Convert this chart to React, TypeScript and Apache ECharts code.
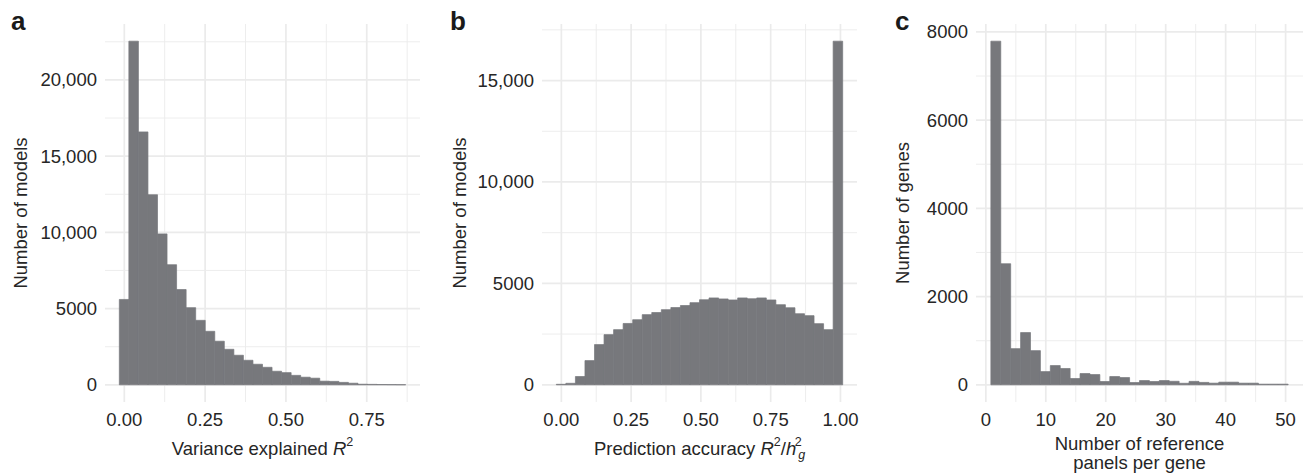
import React, { useEffect, useRef } from "react";
import * as echarts from "echarts";

const FONT = '"Liberation Sans", Arial, Helvetica, sans-serif';
const TEXT = "#262626";
const BAR = "#77787c";
const GRIDC = "#ebebeb";
const FS = 18.5;

// ---- Panel a: Variance explained R^2 (30 bins)
const aBinStart = -0.0154;
const aBinWidth = 0.02953;
const aCounts = [5600, 22540, 16590, 12470, 9900, 7880, 6250, 5060, 4230, 3510, 2860, 2330, 1940, 1610, 1350, 1150, 890, 800, 620, 500, 435, 240, 225, 160, 105, 40, 30, 20, 15, 10];
const aXMajor = [0, 0.25, 0.5, 0.75];
const aXMinor = [0.125, 0.375, 0.625, 0.875];
const aYMajor = [0, 5000, 10000, 15000, 20000];
const aYMinor = [2500, 7500, 12500, 17500, 22500];

// ---- Panel b: Prediction accuracy R^2/h_g^2 (30 bins)
const bBinStart = -0.018;
const bBinWidth = 0.0342;
const bCounts = [25, 75, 410, 1195, 1985, 2475, 2720, 3025, 3210, 3460, 3565, 3705, 3810, 3910, 4050, 4195, 4285, 4235, 4185, 4285, 4245, 4285, 4185, 3950, 3800, 3505, 3410, 3015, 2720, 16940];
const bXMajor = [0, 0.25, 0.5, 0.75, 1];
const bXMinor = [0.125, 0.375, 0.625, 0.875];
const bYMajor = [0, 5000, 10000, 15000];
const bYMinor = [2500, 7500, 12500, 17500];

// ---- Panel c: Number of reference panels per gene (30 bins)
const cBinStart = 0.835;
const cBinWidth = 1.653;
const cCounts = [7790, 2745, 820, 1185, 775, 300, 437, 370, 143, 256, 233, 75, 188, 165, 52, 97, 75, 97, 80, 35, 78, 55, 38, 60, 60, 38, 38, 15, 15, 15];
const cXMajor = [0, 10, 20, 30, 40, 50];
const cXMinor = [5, 15, 25, 35, 45];
const cYMajor = [0, 2000, 4000, 6000, 8000];
const cYMinor = [1000, 3000, 5000, 7000];

type Panel = {
  start: number;
  width: number;
  counts: number[];
  xMajor: number[];
  xMinor: number[];
  yMajor: number[];
  yMinor: number[];
  xFmt: (v: number) => string;
  yFmt: (v: number) => string;
  grid: { left: number; top: number; width: number; height: number };
  xName: string;
  xNameGap: number;
  yName: string;
  yNameGap: number;
};

const commaFmt = (v: number) => (v >= 10000 ? v.toLocaleString("en-US") : String(v));

const panels: Panel[] = [
  {
    start: aBinStart, width: aBinWidth, counts: aCounts,
    xMajor: aXMajor, xMinor: aXMinor, yMajor: aYMajor, yMinor: aYMinor,
    xFmt: (v) => v.toFixed(2), yFmt: commaFmt,
    grid: { left: 105, top: 24, width: 315, height: 378 },
    xName: "Variance explained {it|R}{sup|2}", xNameGap: 33,
    yName: "Number of models", yNameGap: 75,
  },
  {
    start: bBinStart, width: bBinWidth, counts: bCounts,
    xMajor: bXMajor, xMinor: bXMinor, yMajor: bYMajor, yMinor: bYMinor,
    xFmt: (v) => v.toFixed(2), yFmt: commaFmt,
    grid: { left: 542, top: 24, width: 315, height: 378 },
    xName: "Prediction accuracy {it|R}{sup|2}/{it|h}{sp| }{supn|2}{sub|g}", xNameGap: 33,
    yName: "Number of models", yNameGap: 73,
  },
  {
    start: cBinStart, width: cBinWidth, counts: cCounts,
    xMajor: cXMajor, xMinor: cXMinor, yMajor: cYMajor, yMinor: cYMinor,
    xFmt: (v) => String(v), yFmt: (v) => String(v),
    grid: { left: 976, top: 24, width: 327, height: 378 },
    xName: "Number of reference\npanels per gene", xNameGap: 28,
    yName: "Number of genes", yNameGap: 64.5,
  },
];

const letters = [
  { t: "a", x: 11, y: 30 },
  { t: "b", x: 450, y: 30 },
  { t: "c", x: 895, y: 30 },
];

export default function App() {
  const ref = useRef<HTMLDivElement>(null);
  useEffect(() => {
    if (!ref.current) return;
    const chart = echarts.init(ref.current, undefined, { renderer: "svg" });

    const grids: any[] = [];
    const xAxes: any[] = [];
    const yAxes: any[] = [];
    const series: any[] = [];

    panels.forEach((p, i) => {
      const end = p.start + p.width * p.counts.length;
      const span = end - p.start;
      const xmin = p.start - 0.05 * span;
      const xmax = end + 0.05 * span;
      const maxC = Math.max(...p.counts);
      const ymin = -0.05 * maxC;
      const ymax = 1.05 * maxC;

      grids.push({ ...p.grid, containLabel: false, outerBoundsMode: "none" });

      const multi = p.xName.indexOf("\n") >= 0;
      xAxes.push({
        type: "value",
        gridIndex: i,
        min: xmin,
        max: xmax,
        axisLine: { show: false, onZero: false },
        axisTick: { show: false, customValues: p.xMajor },
        splitLine: { show: false },
        axisLabel: {
          customValues: p.xMajor,
          formatter: p.xFmt,
          margin: 8,
          fontSize: FS,
          color: TEXT,
          fontFamily: FONT,
        },
        name: p.xName,
        nameLocation: "middle",
        nameGap: p.xNameGap,
        nameTextStyle: {
          fontSize: FS,
          color: TEXT,
          fontFamily: FONT,
          lineHeight: multi ? 19 : 26,
          rich: {
            it: { fontSize: FS, fontStyle: "italic", color: TEXT, fontFamily: FONT, lineHeight: 26 },
            sp: { fontSize: 7, color: TEXT, fontFamily: FONT, lineHeight: 10 },
            sup: { fontSize: 12.5, color: TEXT, fontFamily: FONT, lineHeight: 14, verticalAlign: "top" },
            supn: { fontSize: 12.5, color: TEXT, fontFamily: FONT, lineHeight: 14, verticalAlign: "top", width: 0.01 },
            sub: { fontSize: 12.5, fontStyle: "italic", color: TEXT, fontFamily: FONT, lineHeight: 14, verticalAlign: "bottom" },
          },
        },
      });
      yAxes.push({
        type: "value",
        gridIndex: i,
        min: ymin,
        max: ymax,
        axisLine: { show: false },
        axisTick: { show: false, customValues: p.yMajor },
        splitLine: { show: false },
        axisLabel: {
          customValues: p.yMajor,
          formatter: p.yFmt,
          margin: 8,
          fontSize: FS,
          color: TEXT,
          fontFamily: FONT,
        },
        name: p.yName,
        nameLocation: "middle",
        nameGap: p.yNameGap,
        nameTextStyle: { fontSize: FS, color: TEXT, fontFamily: FONT },
      });

      const gridData: number[][] = [];
      p.xMajor.forEach((v) => gridData.push([v, 0]));
      p.xMinor.forEach((v) => gridData.push([v, 1]));
      p.yMajor.forEach((v) => gridData.push([v, 2]));
      p.yMinor.forEach((v) => gridData.push([v, 3]));

      series.push({
        type: "custom",
        xAxisIndex: i,
        yAxisIndex: i,
        z: 1,
        silent: true,
        data: gridData,
        renderItem: (params: any, api: any) => {
          const v = api.value(0);
          const kind = api.value(1);
          const cs = params.coordSys;
          const major = kind === 0 || kind === 2;
          const style = { stroke: GRIDC, lineWidth: major ? 1.7 : 0.9 };
          if (kind < 2) {
            const x = api.coord([v, 0])[0];
            return { type: "line", shape: { x1: x, y1: cs.y, x2: x, y2: cs.y + cs.height }, style };
          }
          const y = api.coord([0, v])[1];
          return { type: "line", shape: { x1: cs.x, y1: y, x2: cs.x + cs.width, y2: y }, style };
        },
      });

      const barData = p.counts.map((c, k) => [p.start + k * p.width, p.start + (k + 1) * p.width, c]);
      series.push({
        type: "custom",
        xAxisIndex: i,
        yAxisIndex: i,
        z: 2,
        data: barData,
        encode: { x: [0, 1], y: 2 },
        renderItem: (params: any, api: any) => {
          const p0 = api.coord([api.value(0), 0]);
          const p1 = api.coord([api.value(1), api.value(2)]);
          return {
            type: "rect",
            shape: { x: p0[0], y: p1[1], width: p1[0] - p0[0], height: p0[1] - p1[1] },
            style: { fill: BAR, stroke: BAR, lineWidth: 0.7 },
          };
        },
      });
    });

    chart.setOption({
      animation: false,
      backgroundColor: "#ffffff",
      grid: grids,
      xAxis: xAxes,
      yAxis: yAxes,
      series,
      graphic: letters.map((l) => ({
        type: "text",
        left: l.x,
        top: l.y - 22,
        style: { text: l.t, fontSize: 26, fontWeight: "bold", fill: "#1a1a1a", fontFamily: FONT },
      })),
    });
    return () => chart.dispose();
  }, []);

  return <div ref={ref} style={{ position: "absolute", left: 0, top: 0, width: 1305, height: 474 }} />;
}
